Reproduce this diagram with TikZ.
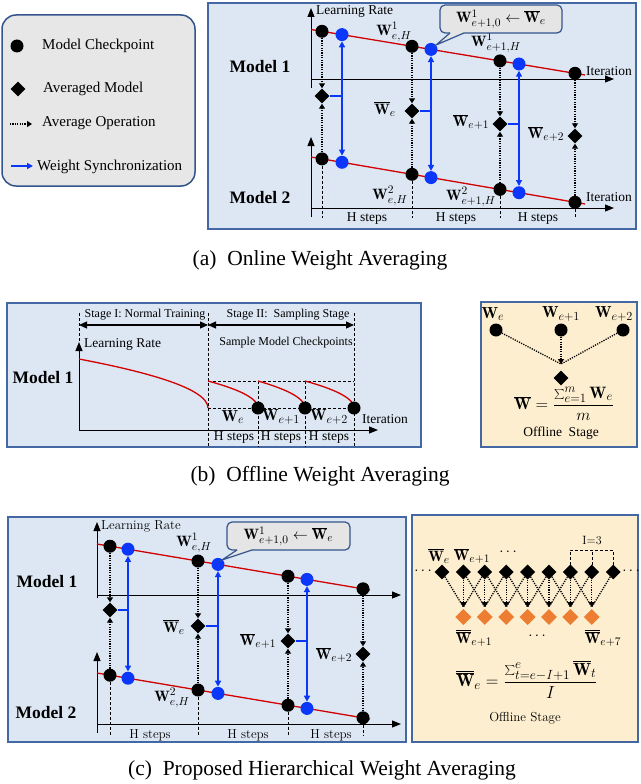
\RequirePackage{fix-cm}
\documentclass[tikz,border=0pt]{standalone}
\usepackage{fontspec}
\newfontfamily\tms{Liberation Serif}
\usetikzlibrary{shapes.geometric,arrows.meta,calc}
\DeclareMathSizes{15}{15}{11.5}{9}
\DeclareMathSizes{16}{16}{12.3}{9.5}
\DeclareMathSizes{16.5}{16.5}{12.7}{9.8}
\DeclareMathSizes{17.5}{17.5}{13.3}{10}
\definecolor{panelblue}{RGB}{221,231,243}
\definecolor{boxblue}{RGB}{68,104,164}
\definecolor{legfill}{RGB}{231,231,231}
\definecolor{legborder}{RGB}{52,84,140}
\definecolor{callfill}{RGB}{229,229,229}
\definecolor{offyellow}{RGB}{252,238,207}
\definecolor{lrred}{RGB}{210,0,0}
\definecolor{syncblue}{RGB}{10,55,250}
\definecolor{avgorange}{RGB}{237,125,49}
\tikzset{
 ck/.style={circle, fill=black, inner sep=0pt, minimum size=13pt},
 bk/.style={circle, fill=syncblue, inner sep=0pt, minimum size=13pt},
 dm/.style={diamond, fill=black, inner sep=0pt, minimum width=15pt, minimum height=15pt},
 odm/.style={dm, fill=avgorange, minimum width=16pt, minimum height=16pt},
 dotln/.style={line width=1.3pt, dash pattern=on 1.2pt off 1.2pt},
 dotarr/.style={dotln, -{Triangle[length=5pt,width=6pt]}},
 syn/.style={syncblue, line width=1.1pt},
 synarr/.style={syncblue, line width=1.6pt, -{Triangle[length=6pt,width=6pt]}},
 lrline/.style={lrred, line width=1.3pt},
 axis/.style={line width=1pt, -{Triangle[length=9pt,width=7pt]}},
 sep/.style={line width=0.8pt, dash pattern=on 3pt off 2pt},
 panel/.style={draw=boxblue, line width=1.6pt, fill=panelblue},
 ypanel/.style={draw=boxblue, line width=1.6pt, fill=offyellow},
 callbox/.style={draw=legborder, line width=1.2pt, fill=callfill},
 lg/.style={font=\tms\fontsize{15}{17}\selectfont, inner sep=0pt, anchor=west},
 sm/.style={font=\tms\fontsize{13.5}{15}\selectfont, inner sep=0pt},
 smc/.style={font=\fontsize{13}{15}\selectfont, inner sep=0pt},
 st/.style={font=\tms\fontsize{12}{14}\selectfont, inner sep=0pt},
 mdl/.style={font=\tms\bfseries\fontsize{17.5}{20}\selectfont, inner sep=0pt},
 mth/.style={font=\fontsize{15}{17}\selectfont, inner sep=0pt},
 mthb/.style={font=\fontsize{16}{18}\selectfont, inner sep=0pt},
 captxt/.style={font=\tms\fontsize{21.5}{25}\selectfont, inner sep=0pt},
 dblarr/.style={line width=1.2pt, {Triangle[length=8pt,width=7pt]}-{Triangle[length=8pt,width=7pt]}}
}
\begin{document}
\begin{tikzpicture}[x=1pt,y=-1pt]
\useasboundingbox (0,0) rectangle (640,784);

% ---------------- Legend ----------------
\draw[legborder, line width=1.5pt, fill=legfill, rounded corners=14pt] (2,15) rectangle (195,186);
\node[ck] (lg1) at (17,46) {};
\node[lg] (lt1) at (42,46) {Model Checkpoint};
\node[dm] (lg2) at (18,89) {};
\node[lg] (lt2) at (43,89) {Averaged Model};
\coordinate (lg3a) at (10,124); \coordinate (lg3b) at (32,124);
\draw[dotarr] (lg3a) -- (lg3b);
\node[lg] (lt3) at (42,123) {Average Operation};
\coordinate (lg4a) at (11,166); \coordinate (lg4b) at (33,166);
\draw[synarr, line width=1.3pt] (lg4a) -- (lg4b);
\node[lg] (lt4) at (37,167) {Weight Synchronization};

% ---------------- Panel (a) ----------------
\draw[panel] (208,3) rectangle (636,229);
\draw[axis] (311,88) -- (311,8);
\draw[axis] (311,79) -- (614,79);
\draw[axis] (311,217) -- (311,137);
\draw[axis] (311,208) -- (614,208);
\draw[lrline] (311,29.5) -- (585,75);
\draw[lrline] (311,157) -- (585,204);
\coordinate (abase) at (0,218);
\node[ck] (a11) at (322,31.3) {};
\node[bk] (ab11) at (342,34.6) {};
\node[ck] (a12) at (412,46.3) {};
\node[bk] (ab12) at (431,49.4) {};
\node[ck] (a13) at (500,60.9) {};
\node[bk] (ab13) at (519,64) {};
\node[ck] (a14) at (575,73.3) {};
\node[ck] (a21) at (322,158.9) {};
\node[bk] (ab21) at (342,162.3) {};
\node[ck] (a22) at (412,174.3) {};
\node[bk] (ab22) at (431,177.6) {};
\node[ck] (a23) at (500,189.4) {};
\node[bk] (ab23) at (519,192.7) {};
\node[ck] (a24) at (575,202.3) {};
\node[dm] (ad1) at (322,96) {};
\node[dm] (ad2) at (412,111) {};
\node[dm] (ad3) at (500,124) {};
\node[dm] (ad4) at (575,136) {};
\foreach \i in {1,2,3,4} {
  \draw[dotarr] (a1\i) -- (ad\i);
  \draw[dotarr] (a2\i) -- (ad\i);
  \draw[sep] (a2\i) -- (a2\i |- abase);
}
\foreach \i in {1,2,3} {
  \draw[syn] (ad\i.east) -- (ad\i.east -| ab1\i);
  \draw[synarr] (ad\i.east -| ab1\i) -- (ab1\i);
  \draw[synarr] (ad\i.east -| ab1\i) -- (ab2\i);
}
\node[sm, anchor=west] (alr) at (316,11) {Learning Rate};
\node[sm, anchor=west] (ait1) at (586,71) {Iteration};
\node[sm, anchor=west] (ait2) at (586,197) {Iteration};
\node[mdl] (am1) at (260,67) {Model 1};
\node[mdl] (am2) at (260,198) {Model 2};
\node[sm] (ah1) at (367,219) {H steps};
\node[sm] (ah2) at (456,219) {H steps};
\node[sm] (ah3) at (538,219) {H steps};
\node[mth] (aw1) at (394,32) {$\mathbf{W}^1_{e,H}$};
\node[mth] (aw2) at (496,43) {$\mathbf{W}^1_{e+1,H}$};
\node[mth] (aw3) at (385,109) {$\overline{\mathbf{W}}_e$};
\node[mth] (aw4) at (471,122) {$\overline{\mathbf{W}}_{e+1}$};
\node[mth] (aw5) at (546,134) {$\overline{\mathbf{W}}_{e+2}$};
\node[mth] (aw6) at (390,196) {$\mathbf{W}^2_{e,H}$};
\node[mth] (aw7) at (471,197) {$\mathbf{W}^2_{e+1,H}$};
% callout (a)
\draw[callbox, rounded corners=5pt] (440,5) rectangle (562,33);
\fill[callfill] (451,31) -- (463,31) -- (464,33) -- (436,45) -- (450,33) -- cycle;
\draw[legborder, line width=1.2pt] (450,33) -- (436,45) -- (464,33);
\node[mth] (acall) at (501,19) {$\mathbf{W}^1_{e+1,0}\leftarrow\overline{\mathbf{W}}_e$};

\node[captxt] (capa) at (320,260) {(a)\enspace Online Weight Averaging};

% ---------------- Panel (b) left ----------------
\draw[panel] (7,303) rectangle (421,447);
\draw[sep] (79,313) -- (79,342);
\draw[sep] (208,313) -- (208,447);
\draw[sep] (354,313) -- (354,447);
\draw[sep] (208,381) -- (354,381);
\draw[sep] (208,408) -- (354,408);
\draw[sep] (258,381) -- (258,447);
\draw[sep] (305,381) -- (305,447);
\draw[axis] (79,430) -- (79,342);
\draw[axis] (79,430) -- (378,430);
\coordinate (s1a) at (79,325); \coordinate (s1b) at (208,325); \coordinate (s2b) at (354,325);
\draw[dblarr] (s1a) -- (s1b);
\draw[dblarr] (s1b) -- (s2b);
\draw[lrline] plot[domain=0:0.995, samples=60] ({79+129*\x},{359+49*(1-sqrt(1-\x))}) -- (208,408);
\foreach \sa/\sb in {208/258, 258/305, 305/354} {
  \draw[lrline] plot[domain=0:0.995, samples=40] ({\sa+(\sb-\sa)*\x},{381+27*(1-sqrt(1-\x))}) -- (\sb,408);
}
\node[ck] (bc1) at (258,408) {};
\node[ck] (bc2) at (305,408) {};
\node[ck] (bc3) at (354,408) {};
\node[st] (bs1) at (145,315) {Stage I: Normal Training};
\node[st] (bs2) at (288,315) {Stage II:\ \ Sampling Stage};
\node[st] (bs3) at (286,343) {Sample Model Checkpoints};
\node[sm, anchor=west] (blr) at (84,344) {Learning Rate};
\node[mdl] (bm1) at (43,378) {Model 1};
\node[sm, anchor=west] (bit) at (362,419) {Iteration};
\node[mthb] (bw1) at (233,417) {$\mathbf{W}_e$};
\node[mthb] (bw2) at (281,417) {$\mathbf{W}_{e+1}$};
\node[mthb] (bw3) at (329,417) {$\mathbf{W}_{e+2}$};
\node[sm] (bh1) at (234,438) {H steps};
\node[sm] (bh2) at (281,438) {H steps};
\node[sm] (bh3) at (329,438) {H steps};

% ---------------- Panel (b) right ----------------
\draw[ypanel] (481,302) rectangle (637,447);
\node[ck] (oc1) at (496,330) {};
\node[ck] (oc2) at (561,330) {};
\node[ck] (oc3) at (623,330) {};
\coordinate (om) at (561,364);
\draw[dotln] (oc1) -- (om);
\draw[dotln] (oc3) -- (om);
\draw[dotarr] (oc2) -- (om);
\node[dm] (od) at (561,378) {};
\node[mthb] (ow1) at (493,314) {$\mathbf{W}_e$};
\node[mthb] (ow2) at (561,314) {$\mathbf{W}_{e+1}$};
\node[mthb] (ow3) at (614,314) {$\mathbf{W}_{e+2}$};
\node[font=\fontsize{16.5}{18}\selectfont, inner sep=0pt] (of) at (564,404) {$\displaystyle\overline{\mathbf{W}}=\frac{\sum_{e=1}^{m}\mathbf{W}_e}{m}$};
\node[sm] (ost) at (561,433) {Offline\ \ Stage};

\node[captxt] (capb) at (320,476) {(b)\enspace Offline Weight Averaging};

% ---------------- Panel (c) left ----------------
\draw[panel] (8,517) rectangle (406,742);
\draw[axis] (97,598) -- (97,522);
\draw[axis] (97,595) -- (401,595);
\draw[axis] (97,733) -- (97,652);
\draw[axis] (97,724) -- (401,724);
\draw[lrline] (97,544) -- (370,590);
\draw[lrline] (97,673) -- (370,719);
\coordinate (cbase) at (0,736);
\node[ck] (c11) at (110,546.2) {};
\node[bk] (cb11) at (128,549.2) {};
\node[ck] (c12) at (198,561) {};
\node[bk] (cb12) at (218,564.4) {};
\node[ck] (c13) at (288,576.2) {};
\node[bk] (cb13) at (307,579.4) {};
\node[ck] (c14) at (363,588.8) {};
\node[ck] (c21) at (110,675.2) {};
\node[bk] (cb21) at (128,678.2) {};
\node[ck] (c22) at (198,690) {};
\node[bk] (cb22) at (218,693.4) {};
\node[ck] (c23) at (288,705.2) {};
\node[bk] (cb23) at (307,708.4) {};
\node[ck] (c24) at (363,717.8) {};
\node[dm] (cd1) at (110,610) {};
\node[dm] (cd2) at (198,626) {};
\node[dm] (cd3) at (288,641) {};
\node[dm] (cd4) at (363,654) {};
\foreach \i in {1,2,3,4} {
  \draw[dotarr] (c1\i) -- (cd\i);
  \draw[dotarr] (c2\i) -- (cd\i);
  \draw[sep] (c2\i) -- (c2\i |- cbase);
}
\foreach \i in {1,2,3} {
  \draw[syn] (cd\i.east) -- (cd\i.east -| cb1\i);
  \draw[synarr] (cd\i.east -| cb1\i) -- (cb1\i);
  \draw[synarr] (cd\i.east -| cb1\i) -- (cb2\i);
}
\node[smc, anchor=west] (clr) at (101,526) {Learning Rate};
\node[mdl] (cm1) at (47,582) {Model 1};
\node[mdl] (cm2) at (46,713) {Model 2};
\node[smc] (ch1) at (150,735) {H steps};
\node[smc] (ch2) at (248,735) {H steps};
\node[smc] (ch3) at (331,735) {H steps};
\node[mth] (cw1) at (194,543) {$\mathbf{W}^1_{e,H}$};
\node[mth] (cw2) at (174,627) {$\overline{\mathbf{W}}_e$};
\node[mth] (cw3) at (258,641) {$\overline{\mathbf{W}}_{e+1}$};
\node[mth] (cw4) at (334,655) {$\overline{\mathbf{W}}_{e+2}$};
\node[mth] (cw5) at (172,698) {$\mathbf{W}^2_{e,H}$};
% callout (c)
\draw[callbox, rounded corners=5pt] (227,522) rectangle (350,550);
\fill[callfill] (238,548) -- (251,548) -- (252,550) -- (222,560) -- (237,550) -- cycle;
\draw[legborder, line width=1.2pt] (237,550) -- (222,560) -- (252,550);
\node[mth] (ccall) at (288.5,536) {$\mathbf{W}^1_{e+1,0}\leftarrow\overline{\mathbf{W}}_e$};

% ---------------- Panel (c) right ----------------
\draw[ypanel] (412,515) rectangle (638,742);
\foreach \k in {0,...,8} { \node[dm] (hb\k) at ({442+21.4*\k},572) {}; }
\foreach \k in {1,...,7} {
  \node[odm] (ho\k) at ({442+21.4*\k},617) {};
  \coordinate (ht\k) at ({442+21.4*\k},607);
}
\foreach \k in {1,...,7} {
  \pgfmathtruncatemacro\km{\k-1}
  \pgfmathtruncatemacro\kp{\k+1}
  \draw[dotln] (hb\km) -- (ht\k);
  \draw[dotln] (hb\kp) -- (ht\k);
  \draw[dotarr] (hb\k) -- (ht\k);
}
\node[mth] (hdl) at (423,571) {$\cdots$};
\node[mth] (hdr) at (631,571) {$\cdots$};
\coordinate (br1) at (570,565); \coordinate (br2) at (592,565); \coordinate (br3) at (613,565);
\draw[sep] (br1) -- ++(0,-15) -| (br3);
\draw[sep] (br2) -- ++(0,-15);
\node[font=\fontsize{12}{14}\selectfont, inner sep=0pt] (hI) at (592,541) {I=3};
\node[mth] (hw1) at (439,556) {$\overline{\mathbf{W}}_e$};
\node[mth] (hw2) at (472,556) {$\overline{\mathbf{W}}_{e+1}$};
\node[mth] (hw3) at (508,552) {$\cdots$};
\node[mth] (hw4) at (474,638) {$\overline{\overline{\mathbf{W}}}_{e+1}$};
\node[mth] (hw5) at (537,636) {$\cdots$};
\node[mth] (hw6) at (603,638) {$\overline{\overline{\mathbf{W}}}_{e+7}$};
\node[font=\fontsize{17.5}{19}\selectfont, inner sep=0pt] (hf) at (527,680) {$\displaystyle\overline{\overline{\mathbf{W}}}_e=\frac{\sum_{t=e-I+1}^{e}\overline{\mathbf{W}}_t}{I}$};
\node[smc] (hst) at (525,718) {Offline Stage};

\node[captxt] (capc) at (322,770) {(c)\enspace Proposed Hierarchical Weight Averaging};
\end{tikzpicture}
\end{document}
